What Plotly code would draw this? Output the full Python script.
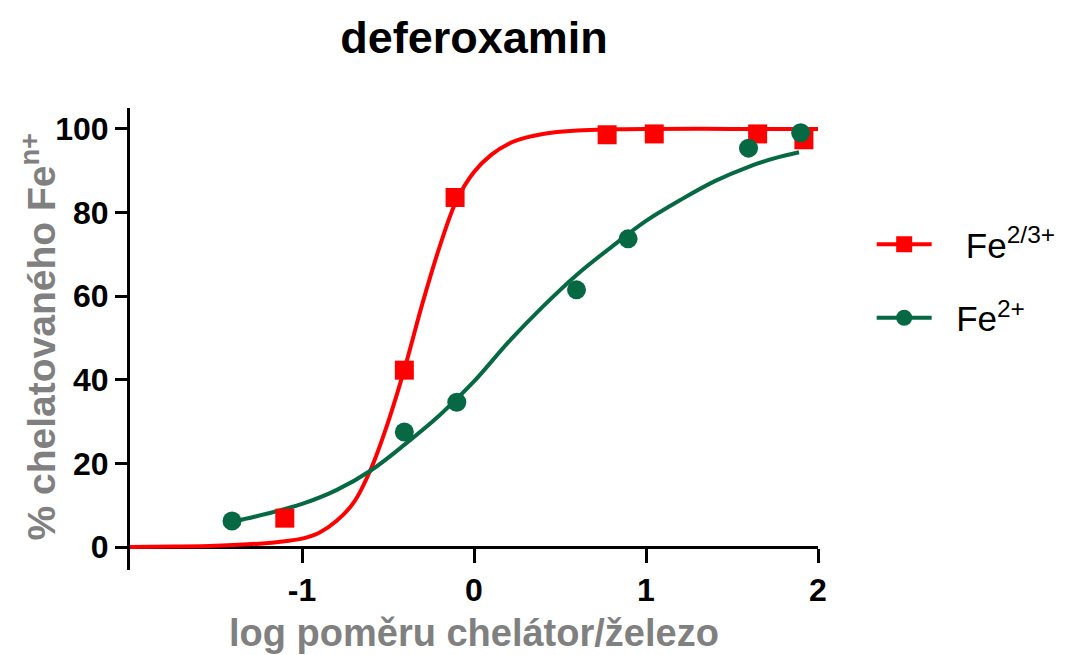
import plotly.graph_objects as go

# measured data (log ratio chelator/iron vs % chelated)
fe23_x = [-1.10, -0.405, -0.11, 0.774, 1.048, 1.649, 1.918]
fe23_y = [6.9, 42.3, 83.6, 98.6, 98.8, 98.8, 97.4]
fe2_x = [-1.407, -0.405, -0.10, 0.596, 0.896, 1.596, 1.899]
fe2_y = [6.2, 27.5, 34.6, 61.5, 73.7, 95.4, 99.1]

# fitted curves
fit23_x = [-2.0, -1.75, -1.5, -1.25, -1.1, -1.0, -0.9, -0.8, -0.7, -0.6, -0.5, -0.4,
           -0.3, -0.2, -0.1, 0.0, 0.1, 0.2, 0.3, 0.4, 0.6, 0.8, 1.0, 1.5, 2.0]
fit23_y = [0, 0.1, 0.3, 0.8, 1.4, 2.0, 3.4, 6.2, 10.6, 18.6, 29.8, 43.2,
           58.2, 71.8, 83.0, 89.7, 93.8, 96.4, 97.9, 98.8, 99.6, 99.9, 100, 100, 100]
fit2_x = [-1.40, -1.2, -1.0, -0.8, -0.6, -0.4, -0.2, 0.0, 0.2, 0.4, 0.6, 0.8,
          1.0, 1.2, 1.4, 1.6, 1.75, 1.89]
fit2_y = [6.1, 8.0, 10.3, 13.6, 18.3, 24.6, 31.5, 39.6, 49.0, 57.5, 65.2, 71.8,
          78.0, 83.0, 87.5, 91.0, 93.0, 94.4]

x_ticks = [-1, 0, 1, 2]
y_ticks = [0, 20, 40, 60, 80, 100]

RED = "#FF0000"
GREEN = "#066944"
FONT = "Liberation Sans, Arial, sans-serif"

fig = go.Figure()

fig.add_trace(go.Scatter(x=fit23_x, y=fit23_y, mode="lines", line=dict(color=RED, width=4, shape="spline"),
                         showlegend=False, hoverinfo="skip"))
fig.add_trace(go.Scatter(x=fit2_x, y=fit2_y, mode="lines", line=dict(color=GREEN, width=4, shape="spline"),
                         showlegend=False, hoverinfo="skip"))
fig.add_trace(go.Scatter(x=fe23_x, y=fe23_y, mode="markers",
                         marker=dict(symbol="square", size=19, color=RED), showlegend=False))
fig.add_trace(go.Scatter(x=fe2_x, y=fe2_y, mode="markers",
                         marker=dict(symbol="circle", size=19, color=GREEN), showlegend=False))

# legend entries
fig.add_trace(go.Scatter(x=[None], y=[None], mode="lines+markers",
                         name="\u00a0\u00a0\u00a0Fe<sup>2/3+</sup>",
                         line=dict(color=RED, width=4), marker=dict(symbol="square", size=19, color=RED),
                         legendgroup="a"))
fig.add_trace(go.Scatter(x=[None], y=[None], mode="lines+markers",
                         name="\u00a0\u00a0Fe<sup>2+</sup>",
                         line=dict(color=GREEN, width=4), marker=dict(symbol="circle", size=19, color=GREEN),
                         legendgroup="b"))

fig.update_layout(
    width=1073, height=655,
    margin=dict(l=130, r=251, t=108, b=85),
    paper_bgcolor="white", plot_bgcolor="white",
    font=dict(family=FONT, color="black"),
    title=dict(text="deferoxamin", x=0.5, xref="paper", y=1 - 37 / 655, yanchor="middle",
               font=dict(size=45, family=FONT, color="black", weight="bold")),
    showlegend=True,
    legend=dict(x=(876 - 130) / 692, y=(570 - 215) / 462, xanchor="left", yanchor="top",
                font=dict(size=35, family=FONT, color="black"), itemwidth=55,
                traceorder="grouped", tracegroupgap=25, bgcolor="rgba(0,0,0,0)"),
    xaxis=dict(range=[-2, 2], tickvals=x_ticks, ticktext=[str(v) for v in x_ticks],
               showline=True, linewidth=3, linecolor="black", ticks="outside", ticklen=14,
               tickwidth=3, tickcolor="black", anchor="free", position=5.5 / 110.5,
               showgrid=False, zeroline=False, layer="below traces",
               tickfont=dict(size=32, family=FONT, color="black", weight="bold")),
    yaxis=dict(range=[-5.5, 105], tickvals=y_ticks, showline=True, linewidth=3, linecolor="black",
               ticks="outside", ticklen=12, tickwidth=3, tickcolor="black", showgrid=False,
               zeroline=False, layer="below traces",
               tickfont=dict(size=32, family=FONT, color="black", weight="bold")),
    annotations=[
        dict(text="log poměru chelátor/železo", xref="paper", yref="paper", x=0.5,
             y=(570 - 633) / 462, xanchor="center", yanchor="middle", showarrow=False,
             font=dict(size=38, family=FONT, color="#808080", weight="bold")),
        dict(text="% chelatovaného Fe<sup>n+</sup>", xref="paper", yref="paper",
             x=(37 - 130) / 692, y=(570 - 337) / 462, xanchor="center", yanchor="middle", textangle=-90,
             showarrow=False, font=dict(size=39, family=FONT, color="#808080", weight="bold")),
    ],
)

fig.write_html("out.html")
